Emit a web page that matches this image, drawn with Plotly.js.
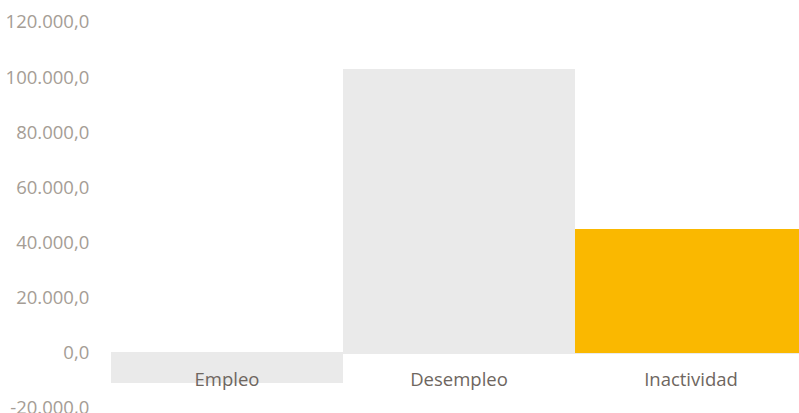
<!DOCTYPE html>
<html>
<head>
<meta charset="utf-8">
<script src="https://cdn.plot.ly/plotly-3.0.1.min.js"></script>
<style>html,body{margin:0;padding:0;background:#fff;}#chart{width:799px;height:413px;}</style>
</head>
<body>
<div id="chart"></div>
<script>
const categories = ["Empleo", "Desempleo", "Inactividad"];
const values = [-11000, 102900, 44800];
const barColors = ["#EAEAEA", "#EAEAEA", "#FAB800"];
const yTicks = [-20000, 0, 20000, 40000, 60000, 80000, 100000, 120000];
const yTickLabels = ["-20.000,0", "0,0", "20.000,0", "40.000,0", "60.000,0", "80.000,0", "100.000,0", "120.000,0"];
const yMin = -21818;
const yMax = 120000;

const data = [{
  type: "bar",
  x: categories,
  y: values,
  marker: {color: barColors, line: {width: 0}},
  hoverinfo: "none"
}];

const layout = {
  width: 799,
  height: 413,
  margin: {l: 111, r: 0, t: 22, b: 0, pad: 0},
  paper_bgcolor: "#ffffff",
  plot_bgcolor: "#ffffff",
  separators: ",.",
  bargap: 0,
  showlegend: false,
  font: {family: "Open Sans, sans-serif"},
  xaxis: {
    type: "category",
    range: [-0.5, 2.4655],
    anchor: "free",
    position: -yMin / (yMax - yMin),
    showline: false,
    showgrid: false,
    zeroline: false,
    ticks: "outside",
    ticklen: 10,
    tickcolor: "rgba(0,0,0,0)",
    tickfont: {family: "Open Sans, sans-serif", size: 18.5, color: "#6E6660"},
    ticklabeloverflow: "allow",
    fixedrange: true
  },
  yaxis: {
    range: [yMin, yMax],
    tickmode: "array",
    tickvals: yTicks,
    ticktext: yTickLabels,
    showgrid: false,
    showline: false,
    zeroline: true,
    zerolinecolor: "#EAEAEA",
    zerolinewidth: 2,
    ticks: "outside",
    ticklen: 17,
    tickcolor: "rgba(0,0,0,0)",
    tickfont: {family: "Open Sans, sans-serif", size: 18.5, color: "#A59D95"},
    ticklabeloverflow: "allow",
    fixedrange: true
  }
};

Plotly.newPlot("chart", data, layout, {displayModeBar: false, staticPlot: true});
</script>
</body>
</html>
